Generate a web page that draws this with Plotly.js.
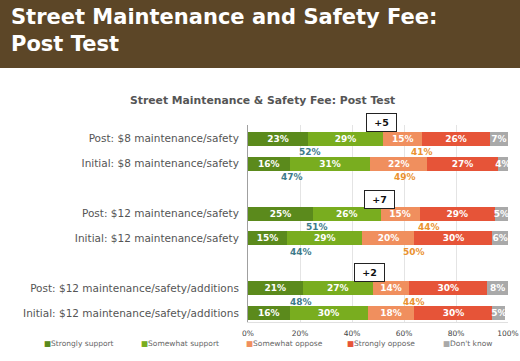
<!DOCTYPE html>
<html>
<head>
<meta charset="utf-8">
<script src="https://cdn.plot.ly/plotly-3.0.1.min.js"></script>
<style>html,body{margin:0;padding:0;background:#fff;}#chart{width:520px;height:361px;}</style>
</head>
<body>
<div id="chart"></div>
<script>
const categories = [
  'Post: $8 maintenance/safety',
  'Initial: $8 maintenance/safety',
  'Post: $12 maintenance/safety',
  'Initial: $12 maintenance/safety',
  'Post: $12 maintenance/safety/additions',
  'Initial: $12 maintenance/safety/additions'
];
const seriesNames = ['Strongly support','Somewhat support','Somewhat oppose','Strongly oppose',"Don't know"];
const strongSupport   = [23, 16, 25, 15, 21, 16];
const somewhatSupport = [29, 31, 26, 29, 27, 30];
const somewhatOppose  = [15, 22, 15, 20, 14, 18];
const strongOppose    = [26, 27, 29, 30, 30, 30];
const dontKnow        = [7, 4, 5, 6, 8, 5];
const xTickVals = [0, 20, 40, 60, 80, 100];
const xTickText = ['0%', '20%', '40%', '60%', '80%', '100%'];

// layout helpers (positions, not data)
const rowPos = [0, 1, 3, 4, 6, 7];
const Y_RANGE = [7.35, -0.55];
const supportLabelX = [23.7, 16.8, 26.4, 20.5, 20.5, 16.8];
const opposeLabelX  = [66.8, 60.3, 69.5, 63.7, 63.7, 63.4];
const diffBoxX = [51.5, 50.4, 46.6];
const diffBoxY = [-0.66, 2.42, 5.35];
const legendPx = [42, 139, 244, 345, 441];
const PLOT_L = 248, PLOT_W = 260, PLOT_B = 322, PLOT_H = 197;

const colors = ['#5b8a1c', '#79ad1f', '#f08f5e', '#e65438', '#a9a9a9'];
const seriesVals = [strongSupport, somewhatSupport, somewhatOppose, strongOppose, dontKnow];
const FONT = 'DejaVu Sans, Verdana, sans-serif';

const traces = seriesVals.map((vals, i) => ({
  type: 'bar',
  orientation: 'h',
  name: seriesNames[i],
  x: vals,
  y: rowPos,
  width: 0.56,
  marker: {color: colors[i], line: {width: 0}},
  text: vals.map(v => v + '%'),
  textposition: 'inside',
  insidetextanchor: 'middle',
  textangle: 0,
  constraintext: 'none',
  insidetextfont: {family: FONT, size: 9, color: '#ffffff', weight: 'bold'},
  hoverinfo: 'skip',
  showlegend: false
}));

const supportTotals = strongSupport.map((v, i) => v + somewhatSupport[i]);
const opposeTotals = somewhatOppose.map((v, i) => v + strongOppose[i]);

const annotations = [];
rowPos.forEach((p, i) => {
  annotations.push({
    x: supportLabelX[i], y: p + 0.53, xref: 'x', yref: 'y',
    text: supportTotals[i] + '%', showarrow: false,
    font: {family: FONT, size: 9, color: '#3d7a8a', weight: 'bold'}
  });
  annotations.push({
    x: opposeLabelX[i], y: p + 0.53, xref: 'x', yref: 'y',
    text: opposeTotals[i] + '%', showarrow: false,
    font: {family: FONT, size: 9, color: '#ea9230', weight: 'bold'}
  });
});
for (let g = 0; g < 3; g++) {
  const d = supportTotals[2 * g] - supportTotals[2 * g + 1];
  annotations.push({
    x: diffBoxX[g], xref: 'x', xanchor: 'center',
    y: (Y_RANGE[0] - diffBoxY[g]) / (Y_RANGE[0] - Y_RANGE[1]), yref: 'paper', yanchor: 'middle',
    text: (d >= 0 ? '+' : '') + d, showarrow: false,
    font: {family: FONT, size: 9.5, color: '#111', weight: 'bold'},
    bgcolor: '#ffffff', bordercolor: '#222', borderwidth: 1,
    width: 25, height: 13, borderpad: 2
  });
}
// legend (drawn as text entries with coloured squares)
seriesNames.forEach((n, i) => {
  annotations.push({
    xref: 'paper', yref: 'paper',
    x: (legendPx[i] - PLOT_L) / PLOT_W, y: (PLOT_B - 343) / PLOT_H,
    xanchor: 'left', yanchor: 'middle', showarrow: false,
    text: '<span style="color:' + colors[i] + '">■</span>' + n,
    font: {family: FONT, size: 7.5, color: '#666'}
  });
});
// header
annotations.push({
  xref: 'paper', yref: 'paper', x: -0.92, y: 1.62, xanchor: 'left', yanchor: 'top',
  align: 'left', showarrow: false,
  text: 'Street Maintenance and Safety Fee:<br>Post Test',
  font: {family: FONT, size: 21, color: '#ffffff', weight: 'bold'}
});
// chart title
annotations.push({
  xref: 'paper', yref: 'paper', x: 0.055, y: 1.125, xanchor: 'center', yanchor: 'middle',
  showarrow: false,
  text: 'Street Maintenance & Safety Fee: Post Test',
  font: {family: FONT, size: 10.8, color: '#555555', weight: 'bold'}
});

const layout = {
  width: 520, height: 361,
  margin: {l: 248, r: 12, t: 125, b: 39, pad: 0},
  paper_bgcolor: '#ffffff', plot_bgcolor: '#ffffff',
  barmode: 'stack',
  showlegend: false,
  xaxis: {
    range: [0, 100], tickvals: xTickVals, ticktext: xTickText,
    showgrid: true, gridcolor: '#e4e4e4', gridwidth: 1,
    zeroline: false, showline: true, linecolor: '#e0e0e0',
    ticks: '', ticklabelstandoff: 4, ticklabeloverflow: 'allow',
    tickfont: {family: FONT, size: 7.5, color: '#444'},
    fixedrange: true
  },
  yaxis: {
    range: Y_RANGE, tickvals: rowPos, ticktext: categories,
    showgrid: false, zeroline: false, showline: true, linecolor: '#a0a0a0',
    ticks: '', ticklabelstandoff: 6,
    tickfont: {family: FONT, size: 10.5, color: '#555'},
    fixedrange: true
  },
  shapes: [{
    type: 'rect', xref: 'paper', yref: 'paper', layer: 'below',
    x0: -1, x1: 1.1, y0: (PLOT_B - 68) / PLOT_H, y1: 1.7,
    fillcolor: '#5c4627', line: {width: 0}
  }],
  annotations: annotations,
  font: {family: FONT}
};

Plotly.newPlot('chart', traces, layout, {displayModeBar: false, staticPlot: true});
</script>
</body>
</html>
